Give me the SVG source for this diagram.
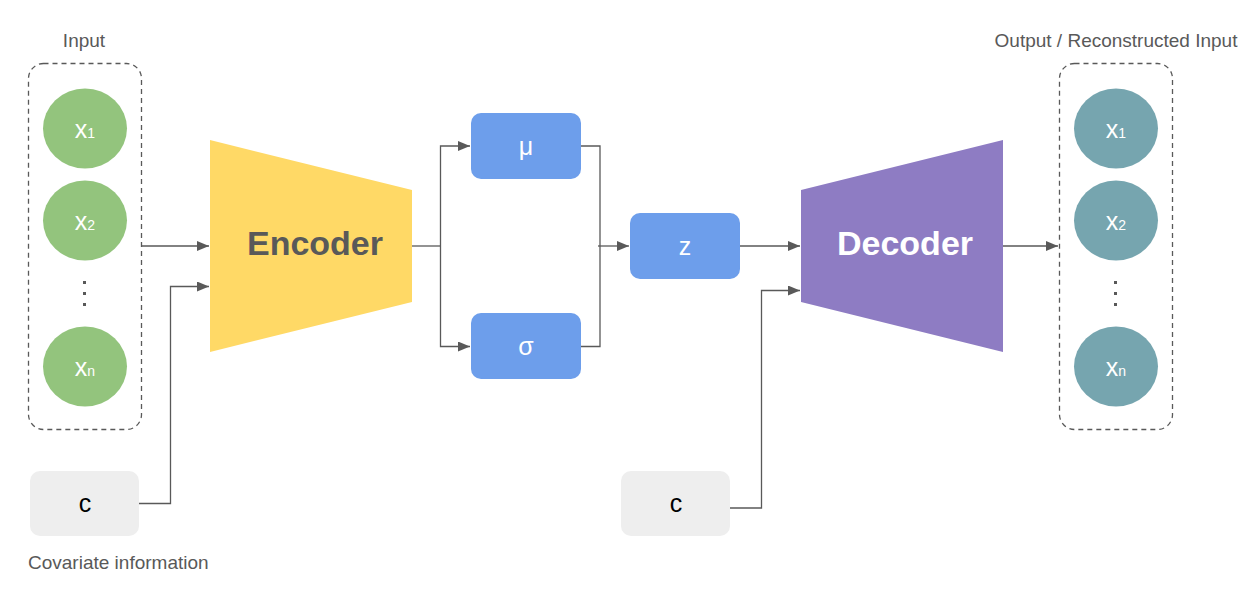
<svg xmlns="http://www.w3.org/2000/svg" width="1250" height="599" viewBox="0 0 1250 599">
<style>
.lbl{font-family:"Liberation Sans",Arial,sans-serif;font-size:19px;fill:#595959}
.xin{fill:#93C47D}
.xout{fill:#76A5AF}
.xt{font-family:"Liberation Sans",Arial,sans-serif;font-size:25px;fill:#fff;text-anchor:middle}
.sub{font-size:14px}
.dash{fill:none;stroke:#595959;stroke-width:1.3;stroke-dasharray:5 4}
.blue{fill:#6D9EEB}
.grey{fill:#EEEEEE}
.bt{font-family:"Liberation Sans",Arial,sans-serif;font-size:25px;fill:#fff;text-anchor:middle}
.ct{font-family:"Liberation Sans",Arial,sans-serif;font-size:25px;fill:#000;text-anchor:middle}
.big{font-family:"Liberation Sans",Arial,sans-serif;font-size:34px;font-weight:bold;text-anchor:middle}
.dot{fill:#595959}
.con{fill:none;stroke:#595959;stroke-width:1.3}
</style>
<defs>
<marker id="arr" markerWidth="12" markerHeight="10" refX="12" refY="5" orient="auto" markerUnits="userSpaceOnUse">
<path d="M0,0 L12,5 L0,10 Z" fill="#595959"/>
</marker>
</defs>
<rect width="1250" height="599" fill="#fff"/>
<text class="lbl" x="84" y="47" text-anchor="middle">Input</text>
<text class="lbl" x="1116" y="47" text-anchor="middle">Output / Reconstructed Input</text>
<text class="lbl" x="28" y="569">Covariate information</text>

<g id="input">
<rect class="dash" x="28.5" y="63.5" width="113" height="366" rx="15"/>
<ellipse class="xin" cx="85" cy="128.5" rx="42" ry="40"/>
<text class="xt" x="85" y="138">x<tspan class="sub">1</tspan></text>
<ellipse class="xin" cx="85" cy="220.5" rx="42" ry="40"/>
<text class="xt" x="85" y="230">x<tspan class="sub">2</tspan></text>
<rect class="dot" x="83" y="281" width="3" height="3"/>
<rect class="dot" x="83" y="292" width="3" height="3"/>
<rect class="dot" x="83" y="303" width="3" height="3"/>
<ellipse class="xin" cx="85" cy="366.5" rx="42" ry="40"/>
<text class="xt" x="85" y="376">x<tspan class="sub">n</tspan></text>
</g>

<g id="encoder">
<polygon points="210,140 412,190 412,302 210,352" fill="#FFD966"/>
<text class="big" x="315" y="255" fill="#595959">Encoder</text>
</g>

<g id="mu">
<rect class="blue" x="471" y="113" width="110" height="66" rx="10"/>
<text class="bt" x="526" y="155">μ</text>
</g>
<g id="sigma">
<rect class="blue" x="471" y="313" width="110" height="66" rx="10"/>
<text class="bt" x="526" y="355">σ</text>
</g>
<g id="z">
<rect class="blue" x="630" y="213" width="110" height="66" rx="10"/>
<text class="bt" x="685" y="255">z</text>
</g>

<g id="decoder">
<polygon points="801,190 1003,140 1003,352 801,302" fill="#8E7CC3"/>
<text class="big" x="905" y="255" fill="#fff">Decoder</text>
</g>

<g id="output">
<rect class="dash" x="1059.5" y="63.5" width="113" height="366" rx="15"/>
<ellipse class="xout" cx="1116" cy="128.5" rx="42" ry="40"/>
<text class="xt" x="1116" y="138">x<tspan class="sub">1</tspan></text>
<ellipse class="xout" cx="1116" cy="220.5" rx="42" ry="40"/>
<text class="xt" x="1116" y="230">x<tspan class="sub">2</tspan></text>
<rect class="dot" x="1114" y="281" width="3" height="3"/>
<rect class="dot" x="1114" y="292" width="3" height="3"/>
<rect class="dot" x="1114" y="303" width="3" height="3"/>
<ellipse class="xout" cx="1116" cy="366.5" rx="42" ry="40"/>
<text class="xt" x="1116" y="376">x<tspan class="sub">n</tspan></text>
</g>

<g id="c1">
<rect class="grey" x="30" y="471" width="109" height="65" rx="10"/>
<text class="ct" x="85" y="512">c</text>
</g>
<g id="c2">
<rect class="grey" x="621" y="471" width="109" height="65" rx="10"/>
<text class="ct" x="676" y="512">c</text>
</g>

<g id="connectors">
<path class="con" d="M141,246 H209" marker-end="url(#arr)"/>
<path class="con" d="M139,503.5 H170.5 V286.5 H209" marker-end="url(#arr)"/>
<path class="con" d="M412,246 H440.5"/>
<path class="con" d="M440.5,246 V146 H470" marker-end="url(#arr)"/>
<path class="con" d="M440.5,246 V346.5 H470" marker-end="url(#arr)"/>
<path class="con" d="M581,146 H600 V346.5 H581"/>
<path class="con" d="M598,246 H629" marker-end="url(#arr)"/>
<path class="con" d="M740,246 H800" marker-end="url(#arr)"/>
<path class="con" d="M730,508 H761.5 V290.5 H800" marker-end="url(#arr)"/>
<path class="con" d="M1003,246 H1058" marker-end="url(#arr)"/>
</g>
</svg>
